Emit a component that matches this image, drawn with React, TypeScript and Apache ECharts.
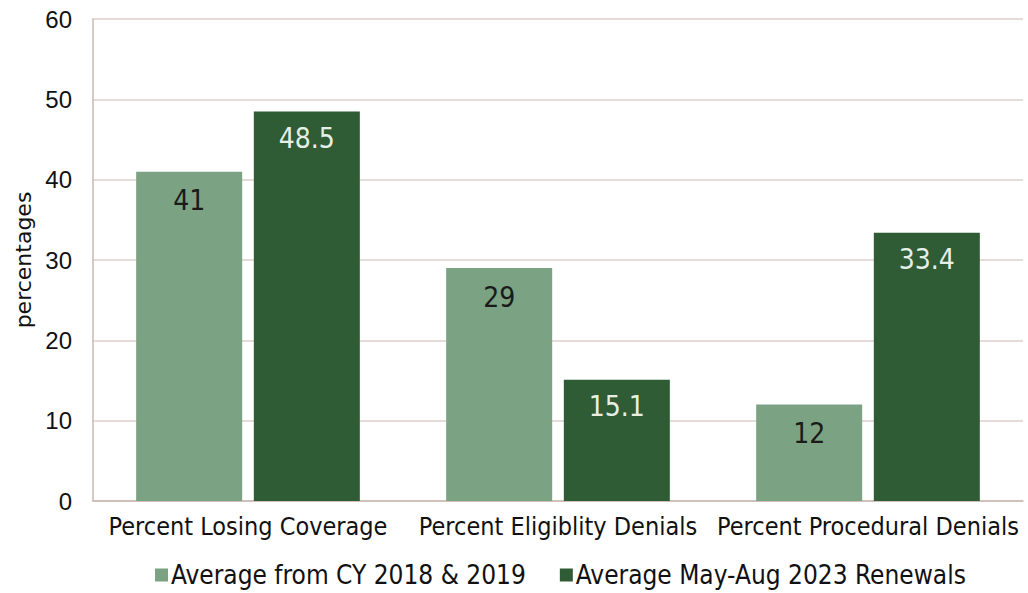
import React, { useEffect, useRef } from "react";
import * as echarts from "echarts";

const categories = ["Percent Losing Coverage", "Percent Eligiblity Denials", "Percent Procedural Denials"];
const seriesNames = ["Average from CY 2018 & 2019", "Average May-Aug 2023 Renewals"];
const avg2018_2019 = [41, 29, 12];
const avg2023 = [48.5, 15.1, 33.4];
const yTicks = { min: 0, max: 60, interval: 10 };

const LIGHT = "#7ba283";
const DARK = "#2f5b35";
const CAT_FONT = "'DejaVu Sans Condensed', 'DejaVu Sans', sans-serif";
const ARIAL = "'Liberation Sans', Arial, sans-serif";

export default function App() {
  const ref = useRef<HTMLDivElement>(null);
  useEffect(() => {
    document.body.style.margin = "0";
    const chart = echarts.init(ref.current!, null, { renderer: "svg" });
    chart.setOption({
      animation: false,
      backgroundColor: "#ffffff",
      grid: { left: 93, right: 5, top: 19, bottom: 92 },
      legend: {
        top: 557,
        left: 150,
        itemWidth: 13,
        itemHeight: 13,
        itemGap: 34,
        icon: "rect",
        textStyle: { fontFamily: CAT_FONT, fontSize: 26, color: "#111", padding: [0, 0, 0, -2] },
        data: seriesNames,
      },
      xAxis: {
        type: "category",
        data: categories,
        axisLine: { show: true, lineStyle: { color: "#c9b8b2", width: 1.5 } },
        axisTick: { show: false },
        axisLabel: { fontFamily: CAT_FONT, fontSize: 25, color: "#111", margin: 13, interval: 0 },
      },
      yAxis: {
        type: "value",
        min: yTicks.min,
        max: yTicks.max,
        interval: yTicks.interval,
        name: "percentages",
        nameLocation: "middle",
        nameGap: 57,
        nameTextStyle: { fontFamily: "'DejaVu Sans', sans-serif", fontSize: 22, color: "#111" },
        axisLine: { show: true, lineStyle: { color: "#c9b8b2", width: 1.5 } },
        axisTick: { show: false },
        axisLabel: { fontFamily: ARIAL, fontSize: 24, color: "#111", margin: 21 },
        splitLine: { lineStyle: { color: "#dccfca", width: 1.5 } },
      },
      series: [
        {
          name: seriesNames[0],
          type: "bar",
          data: avg2018_2019,
          itemStyle: { color: LIGHT },
          barWidth: 106,
          barGap: "11%",
          label: {
            show: true,
            position: "insideTop",
            distance: 15,
            fontFamily: CAT_FONT,
            fontSize: 28,
            color: "#1a1a1a",
          },
        },
        {
          name: seriesNames[1],
          type: "bar",
          data: avg2023,
          itemStyle: { color: DARK },
          barWidth: 106,
          label: {
            show: true,
            position: "insideTop",
            distance: 13,
            fontFamily: CAT_FONT,
            fontSize: 28,
            color: "#e6efe6",
          },
        },
      ],
    });
    return () => chart.dispose();
  }, []);
  return <div ref={ref} style={{ width: 1028, height: 593 }} />;
}
